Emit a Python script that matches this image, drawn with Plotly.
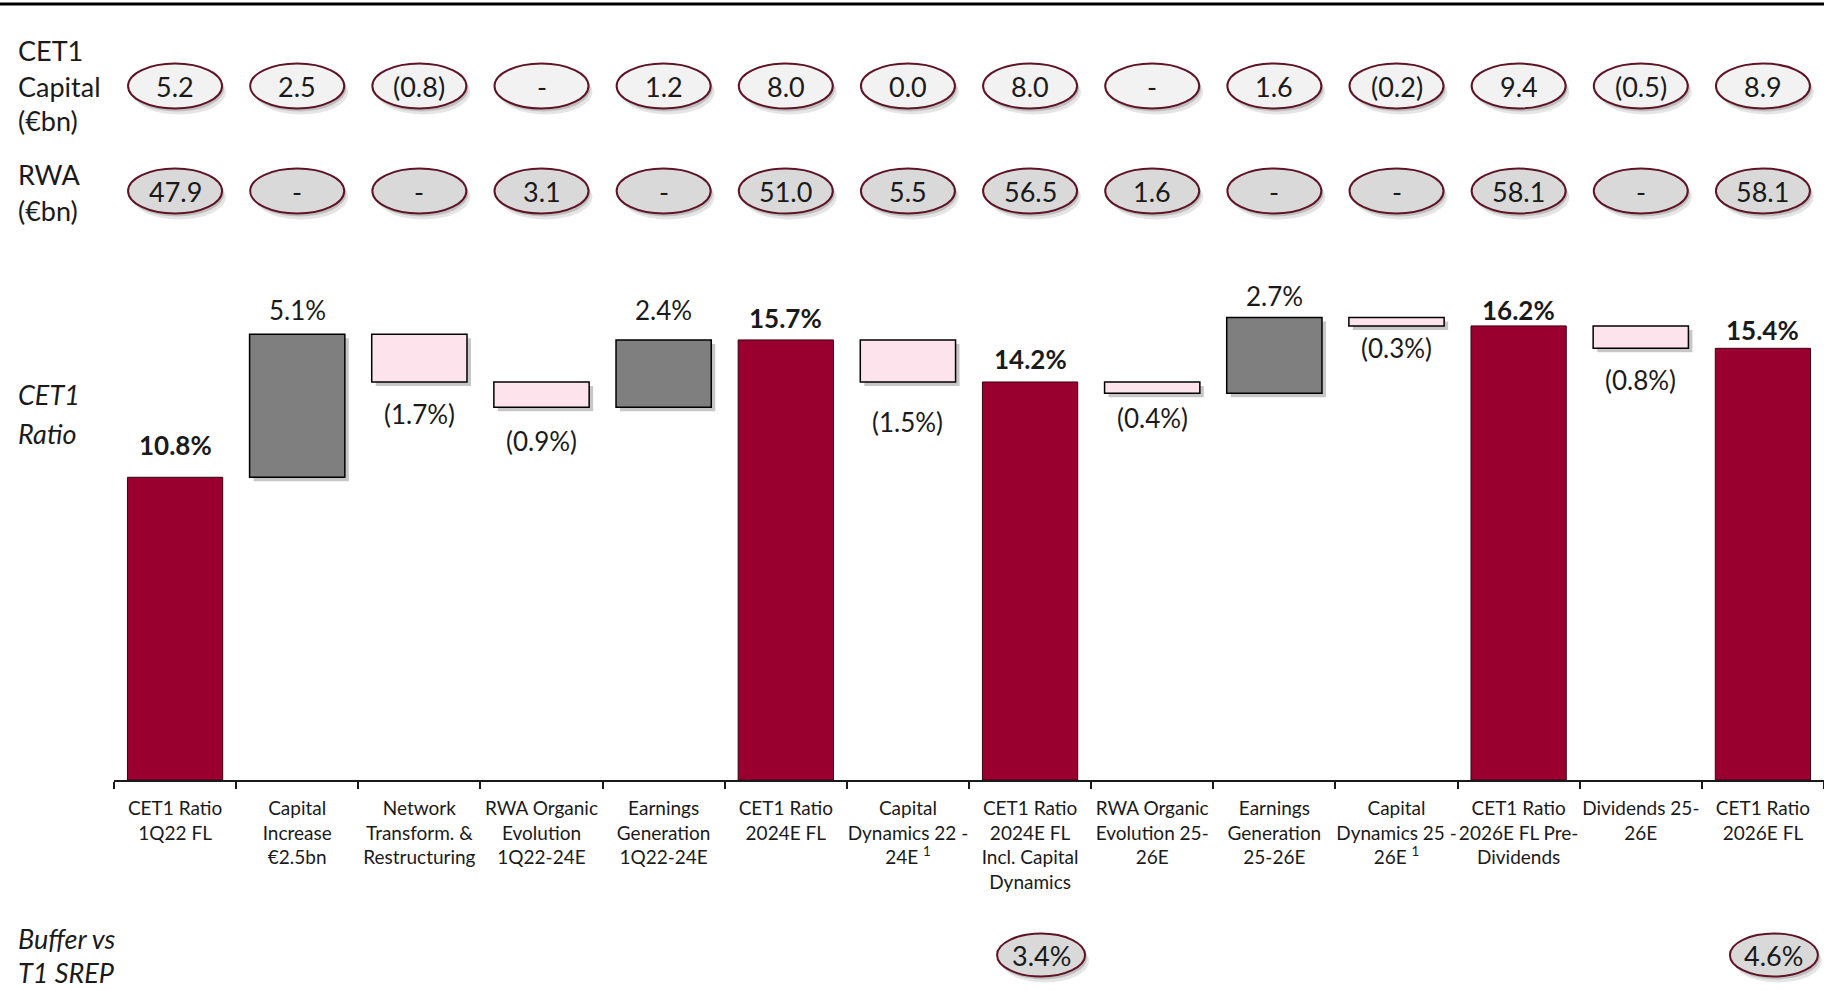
import plotly.graph_objects as go

# ---------------- data ----------------
categories = [
    "CET1 Ratio<br>1Q22 FL",
    "Capital<br>Increase<br>€2.5bn",
    "Network<br>Transform. &<br>Restructuring",
    "RWA Organic<br>Evolution<br>1Q22-24E",
    "Earnings<br>Generation<br>1Q22-24E",
    "CET1 Ratio<br>2024E FL",
    "Capital<br>Dynamics 22 -<br>24E <sup>1</sup>",
    "CET1 Ratio<br>2024E FL<br>Incl. Capital<br>Dynamics",
    "RWA Organic<br>Evolution 25-<br>26E",
    "Earnings<br>Generation<br>25-26E",
    "Capital<br>Dynamics 25 -<br>26E <sup>1</sup>",
    "CET1 Ratio<br>2026E FL Pre-<br>Dividends",
    "Dividends 25-<br>26E",
    "CET1 Ratio<br>2026E FL",
]
measures = ["absolute", "relative", "relative", "relative", "relative", "total", "relative",
            "total", "relative", "relative", "relative", "total", "relative", "total"]
cet1_ratio_pct = [10.8, 5.1, -1.7, -0.9, 2.4, 15.7, -1.5, 14.2, -0.4, 2.7, -0.3, 16.2, -0.8, 15.4]
cet1_capital_bn = ["5.2", "2.5", "(0.8)", "-", "1.2", "8.0", "0.0", "8.0", "-", "1.6", "(0.2)", "9.4", "(0.5)", "8.9"]
rwa_bn = ["47.9", "-", "-", "3.1", "-", "51.0", "5.5", "56.5", "1.6", "-", "-", "58.1", "-", "58.1"]
buffer_index = [7, 13]
buffer_vs_t1_srep = ["3.4%", "4.6%"]

# ---------------- styling / layout helpers ----------------
W, H = 1824, 990
L, B = 114, 210
PLOT_W, PLOT_H = W - L, H - B
PX_PER_PCT = 28.03
CAT_PX = PLOT_W / len(categories)
FONT = "Lato"
TXT = "#1a1a1a"
RED = "#990030"
GREY = "#7f7f7f"
PINK = "#fde4ec"
OUTLINE = "#5e1426"
BAR_W = 0.78
label_offset_px = [32, 24, 32, 34, 30, 22, 40, 23, 25, 22, 22, 16, 32, 18]


def py(ypx):
    return (PLOT_H - ypx) / PLOT_H


def pxx(xpx):
    return (xpx - L) / PLOT_W


fig = go.Figure()

# shadow waterfall (offset a few pixels right/down)
fig.add_trace(go.Waterfall(
    x=categories, y=cet1_ratio_pct, measure=measures,
    base=-4 / PX_PER_PCT, width=BAR_W, offset=-BAR_W / 2 + 4 / CAT_PX,
    increasing=dict(marker=dict(color="rgba(0,0,0,0.22)", line=dict(width=0))),
    decreasing=dict(marker=dict(color="rgba(0,0,0,0.22)", line=dict(width=0))),
    totals=dict(marker=dict(color="rgba(0,0,0,0)", line=dict(width=0))),
    connector=dict(visible=False), textinfo="none", hoverinfo="skip", showlegend=False,
))

fig.add_trace(go.Waterfall(
    x=categories, y=cet1_ratio_pct, measure=measures,
    width=BAR_W, offset=-BAR_W / 2,
    increasing=dict(marker=dict(color=GREY, line=dict(color="#000000", width=1.5))),
    decreasing=dict(marker=dict(color=PINK, line=dict(color="#000000", width=1.5))),
    totals=dict(marker=dict(color=RED, line=dict(color="#3d0013", width=1))),
    connector=dict(visible=False), textinfo="none", showlegend=False,
))

annotations = []
shapes = []

# bar value labels
level = 0.0
for i, (m, v) in enumerate(zip(measures, cet1_ratio_pct)):
    if m == "absolute":
        start, level = 0.0, v
        end = level
    elif m == "total":
        start, end = 0.0, level
    else:
        start = level
        level = level + v
        end = level
    if m in ("absolute", "total"):
        txt, yv, sh = f"<b>{end:.1f}%</b>", end, label_offset_px[i]
    elif v >= 0:
        txt, yv, sh = f"{v:.1f}%", max(start, end), label_offset_px[i]
    else:
        txt, yv, sh = f"({abs(v):.1f}%)", min(start, end), -label_offset_px[i]
    annotations.append(dict(x=i, y=yv, xref="x", yref="y", text=txt, showarrow=False,
                            yshift=sh, yanchor="middle",
                            font=dict(family=FONT, size=26, color=TXT)))


def ellipse(xc, cy, text, fill, w_px=94, h_px=45):
    hw = w_px / 2 / CAT_PX
    for dx, dy, a in ((2, 3, 0.16), (4, 6, 0.10)):
        shapes.append(dict(type="circle", xref="x", yref="paper",
                           x0=xc - hw + dx / CAT_PX, x1=xc + hw + dx / CAT_PX,
                           y0=py(cy + h_px / 2 + dy), y1=py(cy - h_px / 2 + dy),
                           fillcolor=f"rgba(0,0,0,{a})", line=dict(width=0)))
    shapes.append(dict(type="circle", xref="x", yref="paper",
                       x0=xc - hw, x1=xc + hw,
                       y0=py(cy + h_px / 2), y1=py(cy - h_px / 2),
                       fillcolor=fill, line=dict(color=OUTLINE, width=2)))
    annotations.append(dict(x=xc, y=py(cy), xref="x", yref="paper", text=text,
                            showarrow=False, yanchor="middle",
                            font=dict(family=FONT, size=27, color=TXT)))


for i, t in enumerate(cet1_capital_bn):
    ellipse(i, 86, t, "#f2f2f2")
for i, t in enumerate(rwa_bn):
    ellipse(i, 191, t, "#d9d9d9")
for i, t in zip(buffer_index, buffer_vs_t1_srep):
    ellipse(i + 0.09, 955, t, "#d9d9d9", w_px=88, h_px=43)

# row labels
for text, ypix in (("CET1", 51), ("Capital", 86), ("(€bn)", 120), ("RWA", 174), ("(€bn)", 210),
                   ("<i>CET1</i>", 394), ("<i>Ratio</i>", 433),
                   ("<i>Buffer vs</i>", 938), ("<i>T1 SREP</i>", 972)):
    annotations.append(dict(x=pxx(16), y=py(ypix), xref="paper", yref="paper", text=text,
                            showarrow=False, xanchor="left", yanchor="middle",
                            font=dict(family=FONT, size=27, color=TXT)))

# top rule
shapes.append(dict(type="line", xref="paper", yref="paper", x0=pxx(0), x1=1,
                   y0=py(4), y1=py(4), line=dict(color="#000000", width=3)))

fig.update_layout(
    width=W, height=H,
    margin=dict(l=L, r=0, t=0, b=B),
    paper_bgcolor="white", plot_bgcolor="white",
    waterfallmode="overlay",
    showlegend=False,
    annotations=annotations, shapes=shapes,
    xaxis=dict(type="category", range=[-0.5, len(categories) - 0.5],
               showline=True, linecolor="#1a1a1a", linewidth=2,
               ticks="outside", tickson="boundaries", ticklen=7, tickwidth=2, tickcolor="#1a1a1a",
               tickangle=0, ticklabelstandoff=10,
               tickfont=dict(family=FONT, size=19, color=TXT), showgrid=False, fixedrange=True),
    yaxis=dict(visible=False, range=[0, PLOT_H / PX_PER_PCT], showgrid=False,
               zeroline=False, fixedrange=True),
)

fig.write_html("out.html", config={"displayModeBar": False},
               post_script="document.body.style.margin='0';document.body.style.overflow='hidden';")
